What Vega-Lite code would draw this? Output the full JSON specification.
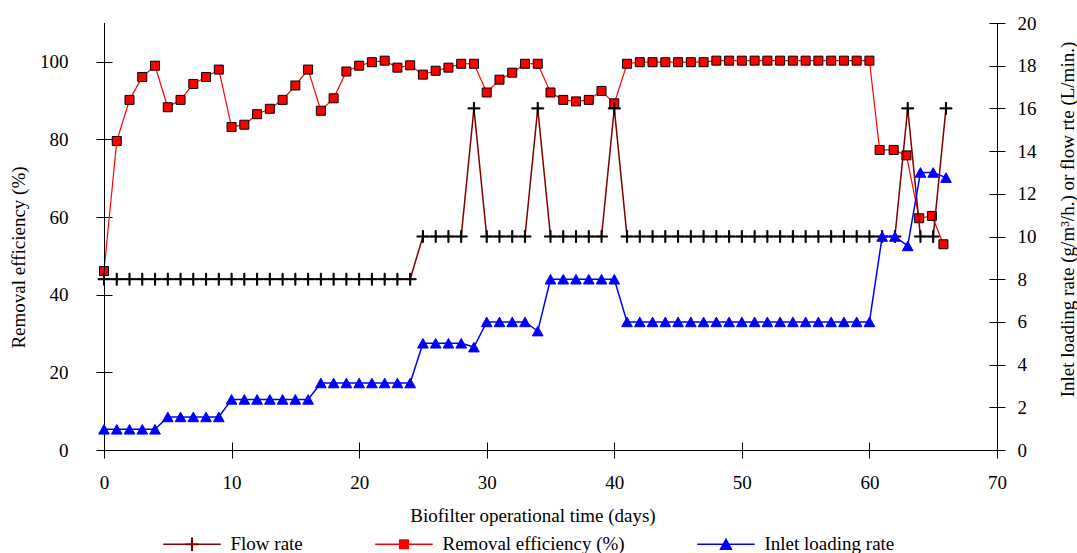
{
  "$schema": "https://vega.github.io/schema/vega-lite/v6.json",
  "width": 893,
  "height": 427,
  "autosize": {"type": "none"},
  "padding": {"left": 104, "top": 23, "right": 80, "bottom": 103},
  "background": "white",
  "config": {
    "view": {"stroke": null},
    "font": "Liberation Serif",
    "axis": {
      "grid": false, "domain": false, "tickColor": "black", "tickWidth": 1, "tickSize": 16, "offset": -8,
      "labelFont": "Liberation Serif", "labelFontSize": 19, "labelColor": "black",
      "titleFont": "Liberation Serif", "titleFontSize": 19, "titleFontWeight": "normal", "titleColor": "black",
      "labelFlush": false, "labelOverlap": false, "titleBaseline": "alphabetic"
    },
    "legend": {"labelFont": "Liberation Serif", "labelFontSize": 19, "labelColor": "black", "padding": 0}
  },
  "data": {"values": [
    {"day":0,"series":"Flow rate","value":8},{"day":1,"series":"Flow rate","value":8},{"day":2,"series":"Flow rate","value":8},{"day":3,"series":"Flow rate","value":8},{"day":4,"series":"Flow rate","value":8},{"day":5,"series":"Flow rate","value":8},{"day":6,"series":"Flow rate","value":8},{"day":7,"series":"Flow rate","value":8},{"day":8,"series":"Flow rate","value":8},{"day":9,"series":"Flow rate","value":8},{"day":10,"series":"Flow rate","value":8},{"day":11,"series":"Flow rate","value":8},{"day":12,"series":"Flow rate","value":8},{"day":13,"series":"Flow rate","value":8},{"day":14,"series":"Flow rate","value":8},{"day":15,"series":"Flow rate","value":8},{"day":16,"series":"Flow rate","value":8},{"day":17,"series":"Flow rate","value":8},{"day":18,"series":"Flow rate","value":8},{"day":19,"series":"Flow rate","value":8},{"day":20,"series":"Flow rate","value":8},{"day":21,"series":"Flow rate","value":8},{"day":22,"series":"Flow rate","value":8},{"day":23,"series":"Flow rate","value":8},{"day":24,"series":"Flow rate","value":8},
    {"day":25,"series":"Flow rate","value":10},{"day":26,"series":"Flow rate","value":10},{"day":27,"series":"Flow rate","value":10},{"day":28,"series":"Flow rate","value":10},{"day":29,"series":"Flow rate","value":16},
    {"day":30,"series":"Flow rate","value":10},{"day":31,"series":"Flow rate","value":10},{"day":32,"series":"Flow rate","value":10},{"day":33,"series":"Flow rate","value":10},{"day":34,"series":"Flow rate","value":16},
    {"day":35,"series":"Flow rate","value":10},{"day":36,"series":"Flow rate","value":10},{"day":37,"series":"Flow rate","value":10},{"day":38,"series":"Flow rate","value":10},{"day":39,"series":"Flow rate","value":10},{"day":40,"series":"Flow rate","value":16},
    {"day":41,"series":"Flow rate","value":10},{"day":42,"series":"Flow rate","value":10},{"day":43,"series":"Flow rate","value":10},{"day":44,"series":"Flow rate","value":10},{"day":45,"series":"Flow rate","value":10},{"day":46,"series":"Flow rate","value":10},{"day":47,"series":"Flow rate","value":10},{"day":48,"series":"Flow rate","value":10},{"day":49,"series":"Flow rate","value":10},{"day":50,"series":"Flow rate","value":10},{"day":51,"series":"Flow rate","value":10},{"day":52,"series":"Flow rate","value":10},{"day":53,"series":"Flow rate","value":10},{"day":54,"series":"Flow rate","value":10},{"day":55,"series":"Flow rate","value":10},{"day":56,"series":"Flow rate","value":10},{"day":57,"series":"Flow rate","value":10},{"day":58,"series":"Flow rate","value":10},{"day":59,"series":"Flow rate","value":10},{"day":60,"series":"Flow rate","value":10},{"day":61,"series":"Flow rate","value":10},{"day":62,"series":"Flow rate","value":10},
    {"day":63,"series":"Flow rate","value":16},{"day":64,"series":"Flow rate","value":10},{"day":65,"series":"Flow rate","value":10},{"day":66,"series":"Flow rate","value":16},

    {"day":0,"series":"Removal efficiency (%)","value":46.1},{"day":1,"series":"Removal efficiency (%)","value":79.6},{"day":2,"series":"Removal efficiency (%)","value":90.2},{"day":3,"series":"Removal efficiency (%)","value":96.1},{"day":4,"series":"Removal efficiency (%)","value":99.0},{"day":5,"series":"Removal efficiency (%)","value":88.3},{"day":6,"series":"Removal efficiency (%)","value":90.2},{"day":7,"series":"Removal efficiency (%)","value":94.3},{"day":8,"series":"Removal efficiency (%)","value":96.1},{"day":9,"series":"Removal efficiency (%)","value":98.0},
    {"day":10,"series":"Removal efficiency (%)","value":83.2},{"day":11,"series":"Removal efficiency (%)","value":83.8},{"day":12,"series":"Removal efficiency (%)","value":86.5},{"day":13,"series":"Removal efficiency (%)","value":87.9},{"day":14,"series":"Removal efficiency (%)","value":90.2},{"day":15,"series":"Removal efficiency (%)","value":93.9},{"day":16,"series":"Removal efficiency (%)","value":98.0},{"day":17,"series":"Removal efficiency (%)","value":87.4},{"day":18,"series":"Removal efficiency (%)","value":90.6},{"day":19,"series":"Removal efficiency (%)","value":97.5},
    {"day":20,"series":"Removal efficiency (%)","value":99.0},{"day":21,"series":"Removal efficiency (%)","value":99.9},{"day":22,"series":"Removal efficiency (%)","value":100.3},{"day":23,"series":"Removal efficiency (%)","value":98.5},{"day":24,"series":"Removal efficiency (%)","value":99.1},{"day":25,"series":"Removal efficiency (%)","value":96.7},{"day":26,"series":"Removal efficiency (%)","value":97.7},{"day":27,"series":"Removal efficiency (%)","value":98.5},{"day":28,"series":"Removal efficiency (%)","value":99.5},{"day":29,"series":"Removal efficiency (%)","value":99.5},
    {"day":30,"series":"Removal efficiency (%)","value":92.1},{"day":31,"series":"Removal efficiency (%)","value":95.4},{"day":32,"series":"Removal efficiency (%)","value":97.2},{"day":33,"series":"Removal efficiency (%)","value":99.5},{"day":34,"series":"Removal efficiency (%)","value":99.5},{"day":35,"series":"Removal efficiency (%)","value":92.1},{"day":36,"series":"Removal efficiency (%)","value":90.2},{"day":37,"series":"Removal efficiency (%)","value":89.8},{"day":38,"series":"Removal efficiency (%)","value":90.2},{"day":39,"series":"Removal efficiency (%)","value":92.5},
    {"day":40,"series":"Removal efficiency (%)","value":89.3},{"day":41,"series":"Removal efficiency (%)","value":99.5},{"day":42,"series":"Removal efficiency (%)","value":99.9},{"day":43,"series":"Removal efficiency (%)","value":99.9},{"day":44,"series":"Removal efficiency (%)","value":99.9},{"day":45,"series":"Removal efficiency (%)","value":99.9},{"day":46,"series":"Removal efficiency (%)","value":99.9},{"day":47,"series":"Removal efficiency (%)","value":99.9},{"day":48,"series":"Removal efficiency (%)","value":100.3},{"day":49,"series":"Removal efficiency (%)","value":100.3},
    {"day":50,"series":"Removal efficiency (%)","value":100.3},{"day":51,"series":"Removal efficiency (%)","value":100.3},{"day":52,"series":"Removal efficiency (%)","value":100.3},{"day":53,"series":"Removal efficiency (%)","value":100.3},{"day":54,"series":"Removal efficiency (%)","value":100.3},{"day":55,"series":"Removal efficiency (%)","value":100.3},{"day":56,"series":"Removal efficiency (%)","value":100.3},{"day":57,"series":"Removal efficiency (%)","value":100.3},{"day":58,"series":"Removal efficiency (%)","value":100.3},{"day":59,"series":"Removal efficiency (%)","value":100.3},{"day":60,"series":"Removal efficiency (%)","value":100.3},
    {"day":60.8,"series":"Removal efficiency (%)","value":77.3},{"day":61.9,"series":"Removal efficiency (%)","value":77.3},{"day":62.9,"series":"Removal efficiency (%)","value":75.9},{"day":63.9,"series":"Removal efficiency (%)","value":59.7},{"day":64.9,"series":"Removal efficiency (%)","value":60.3},{"day":65.8,"series":"Removal efficiency (%)","value":53.0},

    {"day":0,"series":"Inlet loading rate","value":0.97},{"day":1,"series":"Inlet loading rate","value":0.97},{"day":2,"series":"Inlet loading rate","value":0.97},{"day":3,"series":"Inlet loading rate","value":0.97},{"day":4,"series":"Inlet loading rate","value":0.97},
    {"day":5,"series":"Inlet loading rate","value":1.55},{"day":6,"series":"Inlet loading rate","value":1.55},{"day":7,"series":"Inlet loading rate","value":1.55},{"day":8,"series":"Inlet loading rate","value":1.55},{"day":9,"series":"Inlet loading rate","value":1.55},
    {"day":10,"series":"Inlet loading rate","value":2.37},{"day":11,"series":"Inlet loading rate","value":2.37},{"day":12,"series":"Inlet loading rate","value":2.37},{"day":13,"series":"Inlet loading rate","value":2.37},{"day":14,"series":"Inlet loading rate","value":2.37},{"day":15,"series":"Inlet loading rate","value":2.37},{"day":16,"series":"Inlet loading rate","value":2.37},
    {"day":17,"series":"Inlet loading rate","value":3.14},{"day":18,"series":"Inlet loading rate","value":3.14},{"day":19,"series":"Inlet loading rate","value":3.14},{"day":20,"series":"Inlet loading rate","value":3.14},{"day":21,"series":"Inlet loading rate","value":3.14},{"day":22,"series":"Inlet loading rate","value":3.14},{"day":23,"series":"Inlet loading rate","value":3.14},{"day":24,"series":"Inlet loading rate","value":3.14},
    {"day":25,"series":"Inlet loading rate","value":5.0},{"day":26,"series":"Inlet loading rate","value":5.0},{"day":27,"series":"Inlet loading rate","value":5.0},{"day":28,"series":"Inlet loading rate","value":5.0},{"day":29,"series":"Inlet loading rate","value":4.82},
    {"day":30,"series":"Inlet loading rate","value":6.0},{"day":31,"series":"Inlet loading rate","value":6.0},{"day":32,"series":"Inlet loading rate","value":6.0},{"day":33,"series":"Inlet loading rate","value":6.0},{"day":34,"series":"Inlet loading rate","value":5.57},
    {"day":35,"series":"Inlet loading rate","value":8.0},{"day":36,"series":"Inlet loading rate","value":8.0},{"day":37,"series":"Inlet loading rate","value":8.0},{"day":38,"series":"Inlet loading rate","value":8.0},{"day":39,"series":"Inlet loading rate","value":8.0},{"day":40,"series":"Inlet loading rate","value":8.0},
    {"day":41,"series":"Inlet loading rate","value":6.0},{"day":42,"series":"Inlet loading rate","value":6.0},{"day":43,"series":"Inlet loading rate","value":6.0},{"day":44,"series":"Inlet loading rate","value":6.0},{"day":45,"series":"Inlet loading rate","value":6.0},{"day":46,"series":"Inlet loading rate","value":6.0},{"day":47,"series":"Inlet loading rate","value":6.0},{"day":48,"series":"Inlet loading rate","value":6.0},{"day":49,"series":"Inlet loading rate","value":6.0},{"day":50,"series":"Inlet loading rate","value":6.0},{"day":51,"series":"Inlet loading rate","value":6.0},{"day":52,"series":"Inlet loading rate","value":6.0},{"day":53,"series":"Inlet loading rate","value":6.0},{"day":54,"series":"Inlet loading rate","value":6.0},{"day":55,"series":"Inlet loading rate","value":6.0},{"day":56,"series":"Inlet loading rate","value":6.0},{"day":57,"series":"Inlet loading rate","value":6.0},{"day":58,"series":"Inlet loading rate","value":6.0},{"day":59,"series":"Inlet loading rate","value":6.0},{"day":60,"series":"Inlet loading rate","value":6.0},
    {"day":61,"series":"Inlet loading rate","value":10.0},{"day":62,"series":"Inlet loading rate","value":10.0},{"day":63,"series":"Inlet loading rate","value":9.56},{"day":64,"series":"Inlet loading rate","value":13.0},{"day":65,"series":"Inlet loading rate","value":13.0},{"day":66,"series":"Inlet loading rate","value":12.76}
  ]},
  "layer": [
    {
      "layer": [
        {
          "transform": [{"filter": "datum.series === 'Removal efficiency (%)'"}],
          "mark": {"type": "line", "strokeWidth": 1.2, "color": "#ff0000"},
          "encoding": {
            "x": {
              "field": "day", "type": "quantitative",
              "scale": {"domain": [0, 70], "nice": false},
              "axis": {"values": [0, 10, 20, 30, 40, 50, 60, 70], "title": "Biofilter operational time (days)", "labelPadding": 15, "labelDx": -4, "titleX": 428.5, "titleY": 79, "titleAlign": "center"}
            },
            "y": {"field": "value", "type": "quantitative", "scale": {"domain": [0, 110], "nice": false},
                  "axis": {"orient": "left", "values": [0, 20, 40, 60, 80, 100], "title": "Removal efficiency (%)", "labelPadding": 28, "labelDy": -1, "titleX": -88, "titleY": 234, "titleAngle": 270, "titleAlign": "center"}}
          }
        },
        {
          "transform": [{"filter": "datum.series === 'Removal efficiency (%)'"}],
          "mark": {"type": "point", "shape": "square", "size": 81, "filled": true, "fill": "#ff0000", "stroke": "#000000", "strokeWidth": 1, "opacity": 1},
          "encoding": {
            "x": {"field": "day", "type": "quantitative"},
            "y": {"field": "value", "type": "quantitative"}
          }
        },
        {"data": {"values": [{}]}, "mark": {"type": "rule", "color": "black", "strokeWidth": 1, "yOffset": 0.5},
         "encoding": {"y": {"datum": 0, "type": "quantitative"}}},
        {"data": {"values": [{}]}, "mark": {"type": "rule", "color": "black", "strokeWidth": 1, "xOffset": 0.5},
         "encoding": {"x": {"datum": 0, "type": "quantitative"}}},
        {"data": {"values": [{}]}, "mark": {"type": "rule", "color": "black", "strokeWidth": 1, "xOffset": 0.5},
         "encoding": {"x": {"datum": 70, "type": "quantitative"}}}
      ]
    },
    {
      "encoding": {
        "x": {"field": "day", "type": "quantitative"},
        "y": {"field": "value", "type": "quantitative", "scale": {"domain": [0, 20], "nice": false},
              "axis": {"orient": "right", "values": [0, 2, 4, 6, 8, 10, 12, 14, 16, 18, 20], "title": "Inlet loading rate (g/m³/h.) or flow rte (L/min.)", "labelPadding": 12, "labelDy": -1, "titleX": 84, "titleY": 196, "titleAngle": 270, "titleAlign": "center"}}
      },
      "layer": [
        {
          "transform": [{"filter": "datum.series === 'Flow rate'"}],
          "mark": {"type": "line", "strokeWidth": 1.5, "color": "#800000"}
        },
        {
          "transform": [{"filter": "datum.series === 'Flow rate'"}],
          "mark": {"type": "point", "shape": "M-1,-0.09H1V0.09H-1ZM-0.09,-1H0.09V1H-0.09Z", "size": 144, "filled": true, "fill": "#000000", "stroke": "#000000", "strokeWidth": 1, "opacity": 1}
        },
        {
          "transform": [{"filter": "datum.series === 'Inlet loading rate'"}],
          "mark": {"type": "line", "strokeWidth": 1.5, "color": "#0000ff"}
        },
        {
          "transform": [{"filter": "datum.series === 'Inlet loading rate'"}],
          "mark": {"type": "point", "shape": "M0,-0.9L1,0.9L-1,0.9Z", "size": 114, "filled": true, "fill": "#0000ff", "stroke": "#0000ff", "strokeWidth": 1, "opacity": 1}
        }
      ]
    },
    {
      "transform": [{"filter": "datum.day === 0"}],
      "mark": {"type": "point", "size": 3300, "opacity": 0, "strokeWidth": 1.5, "filled": true},
      "encoding": {
        "x": {"field": "day", "type": "quantitative"},
        "shape": {"field": "series", "type": "nominal",
                  "scale": {"domain": ["Flow rate", "Removal efficiency (%)", "Inlet loading rate"],
                            "range": ["M-1,0H1M-0.21,-0.012H0.21V0.012H-0.21ZM-0.012,-0.21H0.012V0.21H-0.012Z", "M-1,0H1M-0.15,-0.15H0.15V0.15H-0.15Z", "M-1,0H1M0,-0.17L0.19,0.17L-0.19,0.17Z"]},
                  "legend": {"orient": "none", "legendX": 58.5, "legendY": 491.5, "direction": "horizontal", "title": null, "symbolSize": 3300, "symbolStrokeWidth": 1.5, "symbolOpacity": 1, "labelOffset": 9, "columnPadding": 68, "labelLimit": 400, "padding": 0}},
        "fill": {"field": "series", "type": "nominal",
                 "scale": {"domain": ["Flow rate", "Removal efficiency (%)", "Inlet loading rate"], "range": ["#000000", "#ff0000", "#0000ff"]},
                 "legend": {"orient": "none", "legendX": 58.5, "legendY": 491.5, "direction": "horizontal", "title": null, "symbolSize": 3300, "symbolStrokeWidth": 1.5, "symbolOpacity": 1, "labelOffset": 9, "columnPadding": 68, "labelLimit": 400, "padding": 0}},
        "stroke": {"field": "series", "type": "nominal",
                   "scale": {"domain": ["Flow rate", "Removal efficiency (%)", "Inlet loading rate"], "range": ["#800000", "#ff0000", "#0000ff"]},
                   "legend": {"orient": "none", "legendX": 58.5, "legendY": 491.5, "direction": "horizontal", "title": null, "symbolSize": 3300, "symbolStrokeWidth": 1.5, "symbolOpacity": 1, "labelOffset": 9, "columnPadding": 68, "labelLimit": 400, "padding": 0}}
      }
    }
  ],
  "resolve": {"scale": {"y": "independent"}}
}
